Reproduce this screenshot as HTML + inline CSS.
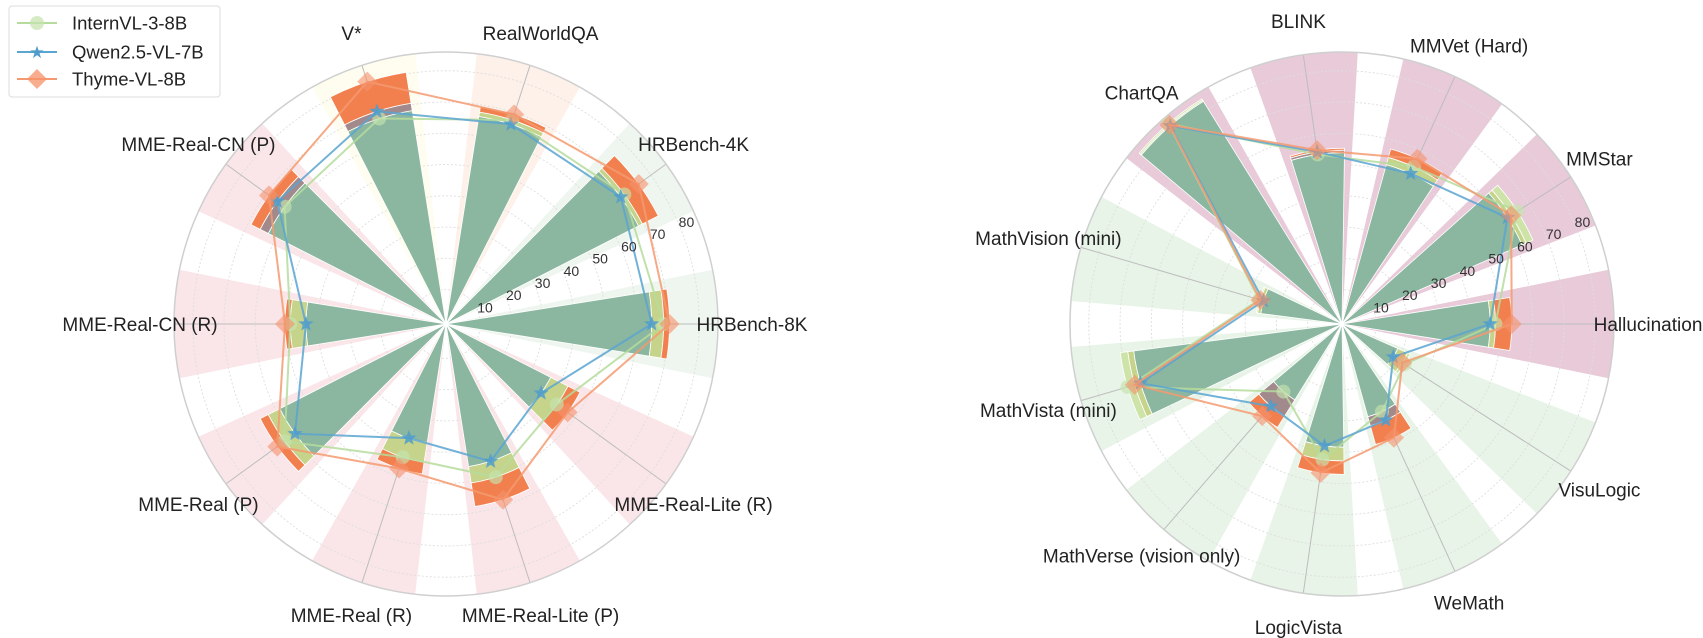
<!DOCTYPE html>
<html><head><meta charset="utf-8">
<style>
html,body{margin:0;padding:0;background:#fff;}
svg{display:block;font-family:"Liberation Sans",sans-serif;}
</style></head>
<body>
<svg id="root" width="1703" height="638" viewBox="0 0 1703 638" xmlns="http://www.w3.org/2000/svg">
  <g id="left-chart"></g>
  <g id="right-chart"></g>
  <g>
    <rect x="9" y="6" width="211" height="91" rx="3" fill="#fff" stroke="#dcdcdc" stroke-width="1"/>
    <g>
      <line x1="17" y1="23" x2="57" y2="23" stroke="#b5dc9c" stroke-width="2"/>
      <circle cx="37" cy="23" r="7" fill="#c5e3ad" fill-opacity="0.7"/>
      <text x="72" y="29.5" font-size="18.5" fill="#222">InternVL-3-8B</text>
    </g>
    <g>
      <line x1="17" y1="52" x2="57" y2="52" stroke="#5aa5d1" stroke-width="2"/>
      <text x="37" y="58" font-size="17" fill="#4f9ccb" text-anchor="middle">★</text>
      <text x="72" y="58.5" font-size="18.5" fill="#222">Qwen2.5-VL-7B</text>
    </g>
    <g>
      <line x1="17" y1="79" x2="57" y2="79" stroke="#f59a70" stroke-width="2"/>
      <polygon points="37,69 47,79 37,89 27,79" fill="#f5916a" fill-opacity="0.75"/>
      <text x="72" y="85.5" font-size="18.5" fill="#222">Thyme-VL-8B</text>
    </g>
  </g>
</svg>
<script>
const leftCategories = ["HRBench-8K","HRBench-4K","RealWorldQA","V*","MME-Real-CN (P)","MME-Real-CN (R)","MME-Real (P)","MME-Real (R)","MME-Real-Lite (P)","MME-Real-Lite (R)"];
const leftIntern = [68.6,69.5,67.6,68.1,62.8,48.8,62.8,43.8,50.5,42.8];
const leftQwen   = [64.8,68.1,66.2,70.5,65.7,43.8,58.7,37.4,45.2,36.6];
const leftThyme  = [70.5,75.2,69.5,80.5,69.0,50.5,65.7,47.6,58.1,47.1];
const leftBg = ["#eef6ef","#eef6ef","#fdf1ea","#fefdf0","#fae6e8","#fae6e8","#fae6e8","#fae6e8","#fae6e8","#fae6e8"];

const rightCategories = ["Hallucination","MMStar","MMVet (Hard)","BLINK","ChartQA","MathVision (mini)","MathVista (mini)","MathVerse (vision only)","LogicVista","WeMath","VisuLogic"];
const rightIntern = [48.1,65.7,54.3,53.8,83.8,26.6,70.5,27.6,42.8,29.8,22.8];
const rightQwen   = [46.4,61.9,51.9,54.6,82.9,25.2,66.2,33.8,38.4,32.8,18.5];
const rightThyme  = [53.3,63.3,57.1,55.2,83.3,26.2,68.1,38.0,47.1,39.0,21.9];
const rightBg = ["#e8cad9","#e8cad9","#e8cad9","#e8cad9","#e8cad9","#e8f4e8","#e8f4e8","#e8f4e8","#e8f4e8","#e8f4e8","#e8f4e8"];

const tickValues = [10,20,30,40,50,60,70,80];
const tickLabels = ["10","20","30","40","50","60","70","80"];

const NS = "http://www.w3.org/2000/svg";
const R = 272, VMIN = -1, VMAX = 86;
function rScale(v){ return R*(v-VMIN)/(VMAX-VMIN); }
function el(tag, attrs, parent){ const e=document.createElementNS(NS,tag); for(const k in attrs) e.setAttribute(k,attrs[k]); parent.appendChild(e); return e; }
function pt(cx,cy,r,deg){ const a=deg*Math.PI/180; return [cx+r*Math.cos(a), cy-r*Math.sin(a)]; }
function wedge(cx,cy,r1,r2,deg,w){
  const a1=deg-w/2, a2=deg+w/2;
  const p1=pt(cx,cy,r2,a1), p2=pt(cx,cy,r2,a2);
  let d;
  if(r1<=0.01){ d=`M${cx},${cy} L${p1[0]},${p1[1]} A${r2},${r2} 0 0 0 ${p2[0]},${p2[1]} Z`; }
  else { const q2=pt(cx,cy,r1,a2), q1=pt(cx,cy,r1,a1);
    d=`M${q1[0]},${q1[1]} L${p1[0]},${p1[1]} A${r2},${r2} 0 0 0 ${p2[0]},${p2[1]} L${q2[0]},${q2[1]} A${r1},${r1} 0 0 1 ${q1[0]},${q1[1]} Z`; }
  return d;
}
const pairColor = {"intern|thyme":"#c6d38a","qwen|thyme":"#a28a8c","intern|qwen":"#9cc5a6"};
const singleColor = {thyme:"#f2804f", intern:"#cde3a8", qwen:"#8cbcd6"};
const allColor = "#8bb6a0";

function starPts(x,y,ro,ri){ let s=[]; for(let i=0;i<10;i++){ const a=-Math.PI/2+i*Math.PI/5; const r=i%2?ri:ro; s.push((x+r*Math.cos(a)).toFixed(2)+","+(y+r*Math.sin(a)).toFixed(2)); } return s.join(" "); }

function drawChart(g, cx, cy, cats, intern, qwen, thyme, bg){
  const n=cats.length, step=360/n, BW=18, BGW=23;
  cats.forEach((c,i)=>{
    const p=el("path",{d:wedge(cx,cy,0,R,i*step,BGW),fill:bg[i]},g);
    
    
  });
  tickValues.forEach(v=>{
    const c=el("circle",{cx:cx,cy:cy,r:rScale(v),fill:"none",stroke:"#dedede","stroke-width":0.9,"stroke-dasharray":"2,2"},g);
    
    
  });
  cats.forEach((c,i)=>{
    const p=pt(cx,cy,R,i*step);
    const l=el("line",{x1:cx,y1:cy,x2:p[0],y2:p[1],stroke:"#bdbdbd","stroke-width":1},g);
    
    
  });
  cats.forEach((c,i)=>{
    const vals=[["intern",intern[i]],["qwen",qwen[i]],["thyme",thyme[i]]].sort((a,b)=>a[1]-b[1]);
    const r0=rScale(vals[0][1]), r1=rScale(vals[1][1]), r2=rScale(vals[2][1]);
    const pairKey=[vals[1][0],vals[2][0]].sort().join("|");
    const bands=[[0,r0,allColor],[r0,r1,pairColor[pairKey]],[r1,r2,singleColor[vals[2][0]]]];
    bands.forEach((b,j)=>{
      if(b[1]-b[0]<0.2) return;
      const p=el("path",{d:wedge(cx,cy,b[0],b[1],i*step,BW),fill:b[2],stroke:"#fff","stroke-width":0.8},g);
      
      
    });
  });
  const oc=el("circle",{cx:cx,cy:cy,r:R,fill:"none",stroke:"#cfcfcf","stroke-width":1.5},g);
  
  
  const series=[["internvl",intern,"#b5dc9c"],["qwen",qwen,"#5aa5d1"],["thyme",thyme,"#f59a70"]];
  series.forEach(s=>{
    const pts=s[1].map((v,i)=>pt(cx,cy,rScale(v),i*step));
    const pl=el("polygon",{points:pts.map(p=>p[0].toFixed(2)+","+p[1].toFixed(2)).join(" "),fill:"none",stroke:s[2],"stroke-width":2,"stroke-opacity":0.85},g);
    
    
    pts.forEach((p,i)=>{
      let m;
      if(s[0]==="internvl") m=el("circle",{cx:p[0],cy:p[1],r:7,fill:"#c5e3ad","fill-opacity":0.65},g);
      else if(s[0]==="qwen") m=el("polygon",{points:starPts(p[0],p[1],8,3.4),fill:"#4f9ccb","fill-opacity":0.85},g);
      else m=el("polygon",{points:`${p[0]},${p[1]-10} ${p[0]+10},${p[1]} ${p[0]},${p[1]+10} ${p[0]-10},${p[1]}`,fill:"#f5916a","fill-opacity":0.6},g);
      
      
    });
  });
  tickValues.forEach((v,k)=>{
    const p=pt(cx,cy,rScale(v)+8,23);
    const t=el("text",{x:p[0],y:p[1]+5,"font-size":14,fill:"#333","text-anchor":"middle"},g);
    t.textContent=tickLabels[k];
    
    
  });
  cats.forEach((c,i)=>{
    const p=pt(cx,cy,306,i*step);
    const t=el("text",{x:p[0],y:p[1]+7,"font-size":19,fill:"#222","text-anchor":"middle"},g);
    t.textContent=c;
    
    
  });
}
drawChart(document.getElementById("left-chart"),446,324,leftCategories,leftIntern,leftQwen,leftThyme,leftBg);
drawChart(document.getElementById("right-chart"),1342,324,rightCategories,rightIntern,rightQwen,rightThyme,rightBg);
</script>
</body></html>
